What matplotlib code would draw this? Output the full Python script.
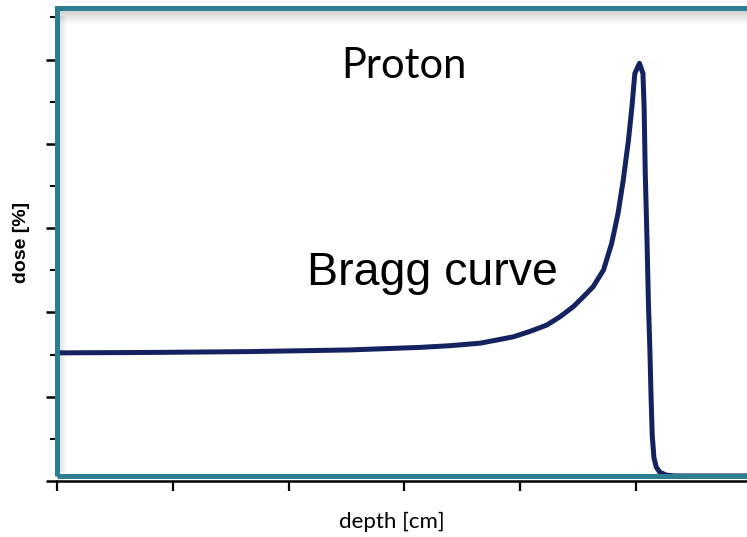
import numpy as np
import matplotlib
matplotlib.use("Agg")
import matplotlib.pyplot as plt
from matplotlib.patches import Rectangle
from matplotlib.ticker import MultipleLocator

# Depth-dose profile of a proton beam (depth in cm, dose in %)
depth_cm = [0.0, 1.61, 3.33, 5.06, 6.27, 6.79, 7.31, 7.88, 8.17, 8.46, 8.69,
            8.92, 9.09, 9.26, 9.44, 9.58, 9.69, 9.78, 9.87, 9.93, 9.98, 10.06,
            10.12, 10.14, 10.16, 10.19, 10.215, 10.24, 10.26, 10.28, 10.31,
            10.35, 10.41, 10.52, 10.67, 12.4]
dose_pct = [30.4, 30.5, 30.7, 31.1, 31.7, 32.1, 32.7, 34.2, 35.5, 37.0, 39.0,
            41.4, 43.7, 46.1, 50.1, 56.4, 63.5, 71.4, 80.9, 88.8, 96.7, 99.1,
            96.7, 88.8, 73.0, 57.2, 42.0, 31.0, 20.0, 10.9, 5.5,
            3.3, 2.1, 1.4, 1.2, 1.2]

x_major = [0, 2, 4, 6, 8, 10, 12]
y_major = [0, 20, 40, 60, 80, 100]

W, H = 747, 537
fig = plt.figure(figsize=(W / 100, H / 100), dpi=100)

left_px, bottom_px, right_px, top_px = 57, 481, 762, 7
px_per_cm, px_per_pct = 57.9, 4.215
ax = fig.add_axes([left_px / W, 1 - bottom_px / H,
                   (right_px - left_px) / W, (bottom_px - top_px) / H])

teal = "#2e7e92"
navy = "#14235f"

ax.plot(depth_cm, dose_pct, color=navy, lw=3.6, solid_joinstyle="round",
        solid_capstyle="butt", zorder=3)

ax.set_xticks(x_major)
ax.set_yticks(y_major)
ax.yaxis.set_minor_locator(MultipleLocator(10))
ax.set_xticklabels([])
ax.set_yticklabels([])
ax.tick_params(axis="x", which="major", direction="out", length=7, width=1.6,
               color="black")
ax.tick_params(axis="y", which="major", direction="out", length=8, width=1.8,
               color="black", pad=0)
ax.tick_params(axis="y", which="minor", direction="out", length=5, width=1.5,
               color="black")
for s in ("top", "right", "left"):
    ax.spines[s].set_visible(False)
ax.spines["bottom"].set_linewidth(1.8)
ax.spines["bottom"].set_color("black")

# Soft shadow below the top border and along the inner left border
grad = np.linspace(0.18, 0.0, 50).reshape(-1, 1)
ax.imshow(np.dstack([np.zeros((50, 1))] * 3 + [grad]), aspect="auto",
          extent=[0.0, 1.0, 1 - 18 / 474, 1 - 4 / 474],
          transform=ax.transAxes, zorder=1, interpolation="bilinear")
grad_l = np.linspace(0.12, 0.0, 50).reshape(1, -1)
ax.imshow(np.dstack([np.zeros((1, 50))] * 3 + [grad_l]), aspect="auto",
          extent=[3 / 705, 10 / 705, 0.02, 0.98],
          transform=ax.transAxes, zorder=1, interpolation="bilinear")
ax.set_xlim(0, (right_px - left_px) / px_per_cm)
ax.set_ylim(0, (bottom_px - top_px) / px_per_pct)

# Teal frame around the plotting area
frame = Rectangle((0.0, 5 / 474), 1.2, 1 - 5 / 474 - 0.002,
                  transform=ax.transAxes, fill=False, edgecolor=teal,
                  lw=3.6, clip_on=False, zorder=4)
ax.add_patch(frame)

fig.text(22 / W, 1 - 242 / H, "dose [%]", rotation=90, ha="center",
         va="center", fontsize=14, fontweight="bold",
         family="Liberation Sans")
fig.text(392 / W, 1 - 528 / H, "depth [cm]", ha="center", va="baseline",
         fontsize=16, family="Lato")
fig.text(404 / W, 1 - 78 / H, "Proton", ha="center", va="baseline",
         fontsize=30, family="Lato")
fig.text(432 / W, 1 - 285 / H, "Bragg curve", ha="center", va="baseline",
         fontsize=33.5, family="Liberation Sans")

fig.savefig("out.png", dpi=100)
